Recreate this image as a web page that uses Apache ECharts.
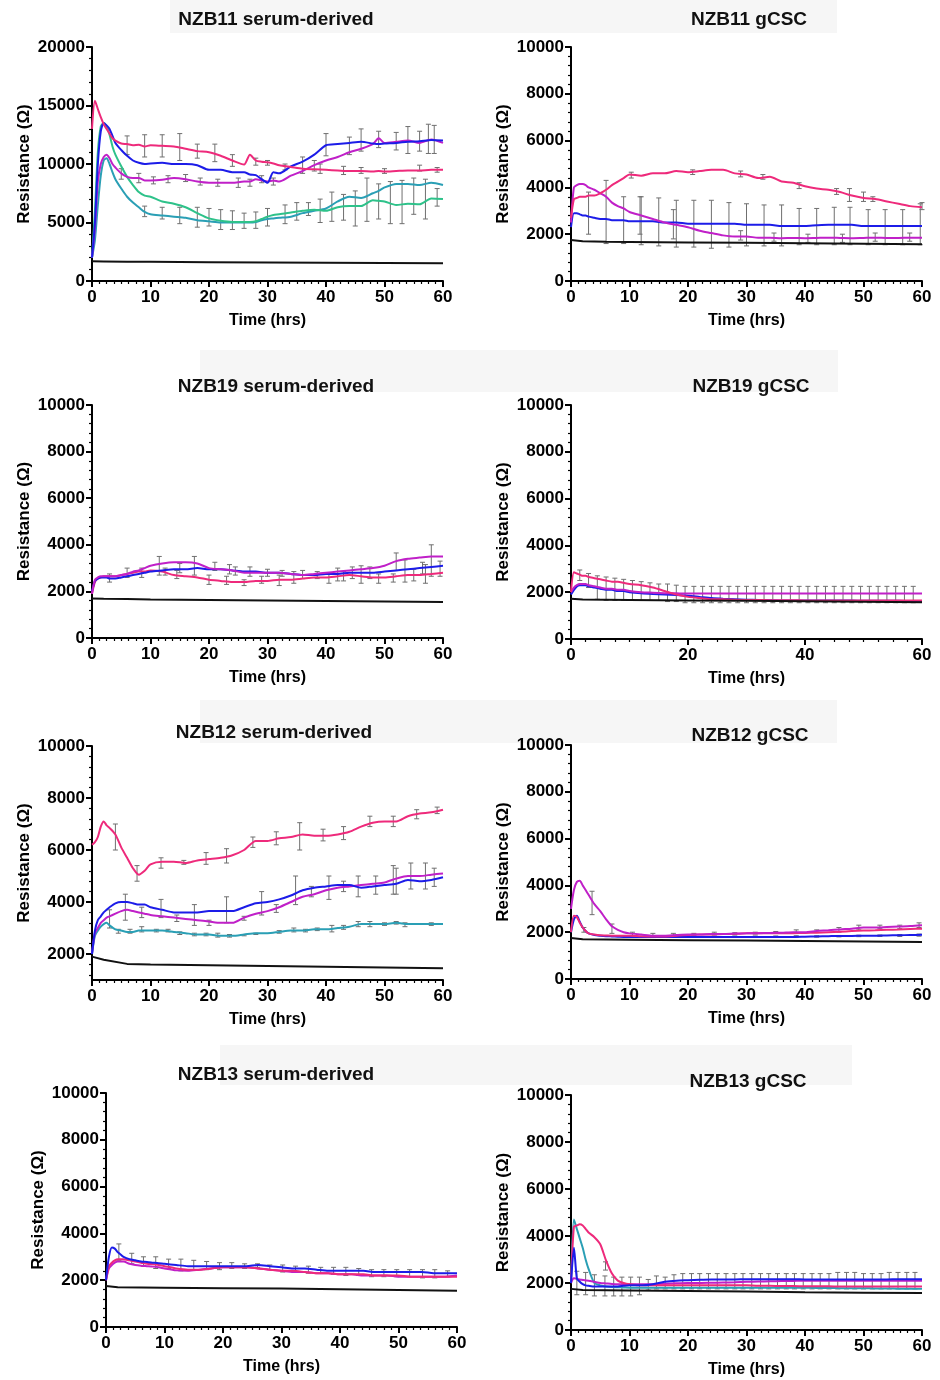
<!DOCTYPE html>
<html>
<head>
<meta charset="utf-8">
<script src="https://cdn.jsdelivr.net/npm/echarts@6/dist/echarts.min.js"></script>
<style>
  html, body { margin: 0; padding: 0; background: #fff; }
  #main { width: 940px; height: 1380px; }
</style>
</head>
<body>
<div id="main"></div>
<script>
// time points (hrs)
var TIME = [0, 0.5, 1, 1.5, 2, 2.5, 3, 4, 5, 6, 7, 8, 9, 10, 12, 14, 16, 18, 20, 22, 24, 26, 28, 30, 32, 34, 36, 38, 40, 42, 44, 46, 48, 50, 52, 54, 56, 58, 60];
var BLACK_TIME = [0, 2, 6, 10, 20, 30, 40, 50, 60];

// NZB11 serum-derived
var nzb11sTime = [0, 0.5, 1, 1.5, 2, 2.5, 3, 3.5, 4, 5, 6, 7, 8, 9, 10, 12, 14, 16, 18, 20, 22, 24, 26, 27, 28, 29, 30, 31, 32, 34, 36, 38, 40, 42, 44, 46, 48, 49, 50, 52, 54, 56, 58, 60];
var nzb11sPink = [13000, 15400, 14700, 14000, 13400, 13000, 12600, 12200, 12000, 11750, 11700, 11600, 11650, 11500, 11600, 11550, 11500, 11300, 11100, 11000, 10700, 10300, 9950, 10800, 10300, 10200, 10150, 10050, 9900, 9750, 9600, 9550, 9500, 9450, 9400, 9400, 9350, 9400, 9350, 9400, 9450, 9450, 9500, 9500];
var nzb11sBlue = [2000, 5000, 10000, 12800, 13500, 13300, 13000, 12400, 11800, 11200, 10700, 10300, 10100, 10000, 10050, 10100, 10000, 10000, 9900, 9500, 9500, 9300, 9300, 9100, 9050, 8700, 8400, 9300, 9200, 9800, 10200, 10800, 11600, 11700, 11800, 11900, 11750, 11700, 11750, 11800, 11900, 11950, 12050, 12000];
var nzb11sMagenta = [2000, 4500, 8500, 10000, 10600, 10800, 10500, 10000, 9700, 9200, 8900, 8800, 8800, 8600, 8600, 8650, 8800, 8700, 8500, 8400, 8400, 8400, 8500, 8500, 8700, 8600, 8500, 8600, 8500, 9000, 9400, 9900, 10300, 10600, 11000, 11300, 11700, 12200, 11800, 11900, 12000, 11800, 12100, 11800];
var nzb11sGreen = [2000, 6000, 11000, 13200, 13500, 13200, 12500, 11500, 10800, 9800, 8900, 8200, 7600, 7300, 7200, 6800, 6600, 6300, 5800, 5350, 5150, 5050, 5050, 5050, 5100, 5300, 5500, 5650, 5700, 5850, 6000, 6100, 6000, 6300, 6400, 6400, 6900, 6850, 6800, 6500, 6600, 6550, 7050, 7000];
var nzb11sTeal = [2000, 3500, 6500, 9000, 10300, 10500, 10000, 9300, 8700, 7900, 7200, 6700, 6300, 5900, 5700, 5600, 5500, 5400, 5200, 5100, 5000, 5000, 5000, 5000, 5050, 5200, 5300, 5350, 5400, 5500, 5800, 6000, 6200, 6800, 7200, 7100, 7500, 7700, 8000, 8300, 8300, 8200, 8400, 8200];
var nzb11sBlack = [1680, 1670, 1650, 1640, 1610, 1590, 1560, 1540, 1520];
var nzb11sErr = [
  [6, 10800, 12400], [9, 10600, 12500], [12, 10600, 12500], [15, 10300, 12600], [18, 10500, 11700], [21, 10200, 11700],
  [24, 9800, 10800], [28, 9900, 10500], [30, 9900, 10300], [33, 9500, 10000], [36, 9200, 10600], [39, 9200, 10000],
  [43, 9100, 9800], [46, 9200, 9700], [50, 9200, 9600], [56, 9400, 9900], [59, 9300, 9700],
  [5, 8700, 9600], [8, 8400, 9200], [10.5, 8300, 8900], [13, 8400, 9000], [16, 8500, 9100], [18.5, 8200, 8800],
  [21.5, 8100, 8700], [25, 8000, 8800], [27, 8100, 8700], [29, 8400, 9000], [31, 8200, 8800], [38, 9400, 10300],
  [9, 5500, 6400], [12, 5300, 6300], [15, 4900, 6300], [18, 4600, 6300], [20, 4700, 6200], [22, 4400, 6100],
  [24, 4400, 6000], [26, 4500, 5800], [28, 4500, 5900], [30, 4700, 6200], [33, 4900, 6500], [35, 5200, 6700],
  [37, 5600, 6700], [39, 5000, 7000], [41, 5100, 7600], [43, 5200, 7400], [45, 4700, 7700], [47, 5100, 8800],
  [49, 5300, 8300], [51, 4900, 8500], [53, 4900, 8600], [55, 5700, 8800], [57, 5300, 8700], [59, 6400, 7900],
  [40, 10700, 12600], [44, 10800, 12300], [46, 11100, 13000], [49, 11400, 12800], [52, 11200, 12700],
  [54, 10900, 13200], [56, 11100, 12800], [57.5, 10900, 13400], [58.5, 10900, 13300]
];

// NZB11 gCSC
var nzb11gPink = [2700, 3500, 3550, 3600, 3600, 3600, 3650, 3650, 3750, 3900, 4100, 4250, 4400, 4550, 4500, 4600, 4600, 4700, 4650, 4700, 4750, 4750, 4600, 4550, 4400, 4450, 4250, 4200, 4050, 3950, 3900, 3800, 3650, 3550, 3500, 3400, 3300, 3200, 3150];
var nzb11gMagenta = [2500, 4000, 4100, 4150, 4150, 4100, 4000, 3900, 3750, 3600, 3350, 3200, 3100, 2950, 2800, 2650, 2500, 2400, 2300, 2150, 2050, 1950, 1900, 1900, 1850, 1850, 1830, 1840, 1830, 1840, 1850, 1840, 1830, 1840, 1850, 1840, 1840, 1850, 1850];
var nzb11gBlue = [2300, 2900, 2900, 2850, 2800, 2800, 2750, 2700, 2650, 2650, 2600, 2600, 2600, 2550, 2550, 2550, 2500, 2500, 2450, 2450, 2450, 2450, 2450, 2400, 2400, 2400, 2350, 2350, 2350, 2380, 2400, 2400, 2400, 2350, 2350, 2350, 2350, 2350, 2350];
var nzb11gBlack = [1750, 1700, 1680, 1670, 1650, 1630, 1610, 1590, 1570];
var nzb11gErr = [
  [3, 2000, 3800], [6, 1600, 4300], [9, 1600, 3600], [11.8, 2000, 3600], [12, 1550, 3600], [15, 1500, 3550],
  [17.5, 1800, 3050], [18, 1450, 3450], [21, 1450, 3450], [24, 1400, 3450], [27, 1450, 3350], [30, 1500, 3300],
  [33, 1500, 3250], [36, 1500, 3250], [39, 1550, 3100], [42, 1550, 3100], [45, 1550, 3150], [47.7, 1550, 3150],
  [50.8, 1550, 3050], [53.7, 1550, 3050], [56.7, 1550, 3050], [59.7, 1550, 3300],
  [10.3, 4400, 4650], [20.8, 4550, 4750], [29, 4450, 4700], [32.8, 4350, 4550], [39, 3950, 4200], [45.4, 3700, 3950],
  [47.6, 3400, 3950], [50, 3400, 3800], [51.6, 3400, 3600], [60, 3050, 3350],
  [29, 1750, 2150], [34.7, 1700, 2050], [40.5, 1650, 2000], [46.4, 1650, 2000], [52, 1700, 2050], [57.9, 1700, 2050]
];

// NZB19 serum-derived
var nzb19sMagenta = [1900, 2500, 2600, 2650, 2650, 2650, 2650, 2650, 2700, 2750, 2850, 2900, 3000, 3100, 3200, 3250, 3250, 3200, 3000, 2950, 2900, 2800, 2800, 2800, 2800, 2750, 2700, 2750, 2800, 2850, 2900, 2950, 3000, 3100, 3300, 3400, 3450, 3500, 3500];
var nzb19sBlue = [2000, 2450, 2550, 2600, 2600, 2600, 2550, 2550, 2600, 2650, 2700, 2750, 2800, 2850, 2900, 2950, 2950, 3000, 2950, 2950, 2900, 2850, 2850, 2800, 2800, 2750, 2700, 2700, 2750, 2750, 2800, 2800, 2800, 2850, 2900, 2950, 3000, 3050, 3100];
var nzb19sPink = [1900, 2400, 2550, 2600, 2650, 2650, 2650, 2650, 2700, 2750, 2800, 2850, 2850, 2900, 2850, 2700, 2650, 2600, 2500, 2450, 2400, 2400, 2450, 2450, 2500, 2500, 2550, 2600, 2600, 2650, 2700, 2650, 2600, 2600, 2650, 2700, 2700, 2750, 2800];
var nzb19sBlack = [1700, 1680, 1670, 1650, 1630, 1610, 1590, 1570, 1550];
var nzb19sErr = [
  [3, 2400, 2750], [6, 2600, 3000], [8.5, 2600, 3000], [11.5, 2700, 3500], [12.5, 2700, 3000], [14.5, 2550, 2900],
  [15, 2800, 3200], [17.5, 2700, 3500], [20, 2300, 2700], [21, 2900, 3250], [23, 2300, 2650], [23.5, 2750, 3150],
  [24.5, 2700, 3050], [26, 2250, 2500], [27, 2650, 3050], [29, 2350, 2650], [30, 2650, 2950], [32, 2250, 2700],
  [32.5, 2650, 2900], [34.5, 2350, 2850], [36, 2550, 2900], [38.5, 2550, 2850], [40.5, 2350, 2800], [42, 2450, 3000],
  [43, 2450, 2850], [44.5, 2550, 3050], [46, 2350, 3100], [47.5, 2550, 3050], [49, 2350, 2750], [51.5, 2400, 2750],
  [52, 2900, 3650], [53.5, 2400, 3350], [55, 2450, 2950], [56.5, 2750, 3250], [57, 2350, 3150], [58, 2650, 4000],
  [59.5, 2650, 3300]
];

// NZB19 gCSC
var nzb19gPink = [2000, 2850, 2800, 2750, 2700, 2700, 2650, 2600, 2550, 2500, 2450, 2450, 2400, 2350, 2300, 2200, 2050, 1900, 1800, 1750, 1700, 1700, 1680, 1670, 1670, 1660, 1660, 1660, 1650, 1650, 1650, 1650, 1650, 1650, 1650, 1650, 1650, 1650, 1650];
var nzb19gMagenta = [2000, 2200, 2300, 2350, 2350, 2350, 2300, 2250, 2200, 2150, 2150, 2100, 2100, 2050, 2000, 1980, 1960, 1950, 1940, 1940, 1940, 1940, 1940, 1940, 1940, 1940, 1940, 1940, 1940, 1940, 1940, 1940, 1940, 1940, 1940, 1940, 1940, 1940, 1940];
var nzb19gBlue = [1900, 2100, 2250, 2300, 2300, 2300, 2250, 2200, 2150, 2100, 2100, 2050, 2050, 2000, 1950, 1920, 1900, 1880, 1850, 1800, 1750, 1720, 1700, 1680, 1670, 1660, 1650, 1650, 1650, 1640, 1640, 1640, 1640, 1630, 1630, 1630, 1630, 1620, 1620];
var nzb19gBlack = [1720, 1690, 1680, 1670, 1650, 1630, 1610, 1590, 1570];
var nzb19gErr = [
  [1.5, 2500, 2950], [3, 2200, 2800], [4.5, 1700, 2700], [6, 1650, 2650], [7.5, 1650, 2600], [9, 1650, 2550],
  [10.5, 1650, 2500], [12, 1650, 2450], [13.5, 1650, 2400], [15, 1650, 2350], [16.5, 1600, 2350], [18, 1600, 2300],
  [19.5, 1550, 2250], [21, 1550, 2250], [22.5, 1550, 2250], [24, 1550, 2250], [25.5, 1550, 2250], [27, 1550, 2250],
  [28.5, 1550, 2250], [30, 1550, 2250], [31.5, 1550, 2250], [33, 1550, 2250], [34.5, 1550, 2250], [36, 1550, 2250],
  [37.5, 1550, 2250], [39, 1550, 2250], [40.5, 1550, 2250], [42, 1550, 2250], [43.5, 1550, 2250], [45, 1550, 2250],
  [46.5, 1550, 2250], [48, 1550, 2250], [49.5, 1550, 2250], [51, 1550, 2250], [52.5, 1550, 2250], [54, 1550, 2250],
  [55.5, 1550, 2250], [57, 1550, 2250], [58.5, 1550, 2250]
];

// NZB12 serum-derived
var nzb12sPink = [6200, 6300, 6500, 6900, 7100, 6950, 6850, 6600, 6100, 5700, 5300, 5050, 5200, 5450, 5550, 5550, 5500, 5600, 5650, 5700, 5800, 6000, 6350, 6350, 6450, 6500, 6600, 6550, 6550, 6600, 6700, 6900, 7050, 7100, 7100, 7300, 7400, 7450, 7550];
var nzb12sBlue = [2000, 2900, 3300, 3450, 3600, 3700, 3800, 3950, 4000, 4000, 3950, 3900, 3900, 3800, 3700, 3600, 3600, 3600, 3650, 3650, 3650, 3800, 3950, 4000, 4100, 4250, 4450, 4550, 4600, 4650, 4650, 4550, 4600, 4650, 4700, 4850, 4800, 4850, 4950];
var nzb12sMagenta = [2000, 2800, 3000, 3200, 3300, 3400, 3450, 3550, 3650, 3700, 3650, 3600, 3550, 3500, 3450, 3400, 3350, 3300, 3250, 3200, 3200, 3400, 3550, 3650, 3800, 4000, 4200, 4300, 4450, 4550, 4600, 4650, 4700, 4750, 4900, 5000, 5000, 5050, 5100];
var nzb12sTeal = [2000, 2700, 2900, 3050, 3150, 3200, 3100, 2950, 2900, 2850, 2850, 2900, 2900, 2900, 2900, 2850, 2800, 2750, 2750, 2700, 2700, 2750, 2800, 2800, 2850, 2900, 2900, 2950, 2950, 3000, 3050, 3150, 3150, 3150, 3200, 3150, 3150, 3150, 3150];
var nzb12sBlack = [1900, 1780, 1620, 1600, 1570, 1540, 1510, 1480, 1450];
var nzb12sErr = [
  [4, 6000, 7000], [7.7, 4800, 5400], [11.8, 5300, 5700], [15.7, 5450, 5600], [19.5, 5450, 5900], [23, 5500, 6050],
  [27.5, 6100, 6500], [31.5, 6200, 6700], [35.5, 6000, 7050], [39.5, 6350, 6800], [43, 6400, 6900], [47.5, 6900, 7300],
  [51.5, 6900, 7300], [55.5, 7200, 7550], [59, 7400, 7650],
  [3, 3000, 3700], [5.7, 3300, 4300], [8.5, 3400, 3800], [11.8, 3400, 4100], [14.5, 3250, 3500], [17.5, 3100, 3900],
  [20, 3100, 3300], [23, 3200, 4200], [26, 3300, 3450], [29, 3500, 4400], [31.5, 3600, 3900], [34.8, 3900, 5000],
  [37.5, 4200, 4600], [40.5, 4100, 5000], [43, 4400, 4800], [45.5, 4200, 5000], [48.5, 4300, 5000], [51.5, 4300, 5400],
  [52, 4300, 5300], [54.5, 4500, 5500], [57, 4500, 5500], [58.5, 4600, 5300],
  [4.5, 2800, 2950], [6.5, 2800, 2950], [8.5, 2850, 3050], [11, 2850, 2950], [13, 2850, 2950], [15, 2750, 2850],
  [17.5, 2700, 2800], [19.5, 2700, 2800], [21.5, 2650, 2800], [23.5, 2650, 2750], [26, 2700, 2750], [28, 2750, 2800],
  [32, 2800, 2900], [34.5, 2850, 3000], [36.5, 2850, 2950], [38.5, 2900, 3000], [41, 2850, 3100], [43, 2950, 3100],
  [45.5, 3050, 3250], [47.5, 3050, 3250], [50, 3100, 3200], [52, 3150, 3250], [53.5, 3050, 3200], [58, 3100, 3200]
];

// NZB12 gCSC
var nzb12gMagenta = [3000, 3800, 4150, 4200, 4000, 3800, 3600, 3200, 2900, 2550, 2250, 2100, 2000, 1950, 1900, 1850, 1850, 1880, 1900, 1900, 1920, 1920, 1940, 1950, 1960, 1970, 1980, 2000, 2000, 2050, 2080, 2120, 2150, 2200, 2200, 2220, 2240, 2260, 2300];
var nzb12gPink = [2000, 2700, 2650, 2400, 2200, 2050, 1950, 1900, 1870, 1860, 1850, 1850, 1850, 1850, 1830, 1820, 1820, 1850, 1880, 1900, 1900, 1920, 1930, 1950, 1950, 1950, 1950, 1960, 1970, 1980, 2000, 2020, 2050, 2070, 2080, 2100, 2120, 2140, 2150];
var nzb12gBlue = [2000, 2550, 2700, 2450, 2200, 2050, 1950, 1880, 1850, 1830, 1820, 1810, 1800, 1800, 1800, 1800, 1800, 1800, 1800, 1800, 1800, 1800, 1800, 1800, 1800, 1800, 1800, 1800, 1810, 1820, 1830, 1840, 1840, 1850, 1850, 1860, 1870, 1880, 1890];
var nzb12gBlack = [1750, 1700, 1690, 1680, 1660, 1640, 1620, 1600, 1580];
var nzb12gErr = [
  [2.2, 2000, 2200], [3.6, 2750, 3750], [7, 1950, 2350], [10.5, 1850, 2000], [14, 1850, 1950], [17.5, 1850, 1950],
  [21, 1870, 1950], [24.5, 1900, 2000], [28, 1900, 1980], [31.5, 1920, 2000], [35, 1950, 2030], [38.5, 1950, 2100],
  [42, 2000, 2100], [45.8, 2000, 2200], [49.2, 2100, 2300], [52.8, 2150, 2300], [56.2, 2150, 2300], [59.5, 2200, 2400],
  [10.5, 1780, 1840], [14, 1780, 1840], [17.5, 1780, 1840], [21, 1780, 1840], [24.5, 1780, 1840], [28, 1780, 1840],
  [31.5, 1780, 1840], [35, 1780, 1840], [38.5, 1790, 1850], [42, 1790, 1850], [45.8, 1800, 1860], [49.2, 1810, 1870],
  [52.8, 1820, 1880], [56.2, 1820, 1900], [59.5, 1830, 1920]
];

// NZB13 serum-derived
var nzb13sBlue = [2000, 3000, 3400, 3350, 3200, 3100, 3000, 2900, 2850, 2800, 2780, 2750, 2720, 2700, 2650, 2600, 2600, 2600, 2600, 2600, 2600, 2650, 2600, 2550, 2500, 2500, 2450, 2400, 2400, 2400, 2400, 2350, 2350, 2350, 2350, 2350, 2300, 2300, 2300];
var nzb13sPink = [2000, 2600, 2750, 2850, 2900, 2900, 2900, 2850, 2800, 2750, 2700, 2680, 2650, 2600, 2500, 2450, 2450, 2500, 2550, 2550, 2550, 2500, 2450, 2400, 2400, 2350, 2300, 2300, 2250, 2250, 2250, 2200, 2200, 2200, 2150, 2150, 2150, 2150, 2150];
var nzb13sMagenta = [2000, 2500, 2650, 2750, 2800, 2800, 2800, 2700, 2650, 2620, 2600, 2580, 2550, 2500, 2420, 2400, 2450, 2500, 2550, 2550, 2550, 2500, 2450, 2400, 2350, 2350, 2300, 2300, 2250, 2250, 2200, 2200, 2200, 2150, 2150, 2150, 2150, 2150, 2200];
var nzb13sBlack = [1750, 1700, 1690, 1680, 1660, 1640, 1610, 1580, 1550];
var nzb13sErr = [
  [2.2, 2850, 3550], [4.4, 2700, 3150], [6.4, 2600, 3000], [8.5, 2500, 3000], [10.7, 2500, 2900], [12.8, 2400, 2900],
  [15, 2450, 2850], [17.2, 2450, 2800], [19.4, 2450, 2750], [21.5, 2500, 2750], [23.7, 2500, 2700], [25.9, 2550, 2700],
  [28, 2450, 2650], [30.2, 2350, 2650], [32.4, 2350, 2600], [34.6, 2300, 2600], [36.7, 2300, 2550], [38.9, 2250, 2550],
  [41, 2200, 2550], [43.2, 2200, 2500], [45.4, 2150, 2450], [47.5, 2150, 2450], [49.7, 2150, 2450], [51.9, 2150, 2450],
  [54.1, 2100, 2450], [56.2, 2100, 2450], [58.4, 2150, 2400]
];

// NZB13 gCSC
var nzb13gTeal = [2000, 4700, 4300, 3900, 3500, 3000, 2600, 2000, 1900, 1850, 1830, 1820, 1810, 1800, 1800, 1800, 1800, 1800, 1800, 1800, 1800, 1800, 1800, 1800, 1800, 1800, 1800, 1800, 1800, 1790, 1790, 1780, 1780, 1780, 1770, 1770, 1760, 1760, 1750];
var nzb13gPink = [2000, 4400, 4450, 4500, 4450, 4300, 4150, 3950, 3650, 2950, 2400, 2100, 2000, 1950, 1900, 1900, 1900, 1900, 1900, 1900, 1900, 1900, 1900, 1900, 1880, 1880, 1870, 1870, 1860, 1860, 1860, 1850, 1850, 1850, 1850, 1850, 1850, 1850, 1850];
var nzb13gBlue = [2000, 3500, 2200, 2050, 1950, 1900, 1880, 1850, 1850, 1850, 1850, 1850, 1880, 1900, 1900, 1950, 2050, 2100, 2120, 2140, 2150, 2150, 2150, 2160, 2160, 2160, 2160, 2160, 2150, 2150, 2150, 2150, 2150, 2150, 2150, 2150, 2160, 2160, 2160];
var nzb13gMagenta = [2000, 2200, 2180, 2150, 2130, 2110, 2100, 2050, 2000, 1980, 1960, 1950, 1950, 1950, 1950, 1950, 1970, 1990, 2000, 2000, 2010, 2020, 2030, 2050, 2060, 2070, 2080, 2090, 2100, 2100, 2100, 2100, 2100, 2100, 2100, 2100, 2100, 2100, 2100];
var nzb13gBlack = [1750, 1700, 1690, 1680, 1660, 1640, 1610, 1590, 1570];
var nzb13gErr = [
  [1, 1500, 2500], [2.5, 1500, 2450], [4, 1450, 2350], [5.8, 1450, 2300], [5.9, 2550, 2900], [7.3, 1450, 2250],
  [8.7, 1450, 2250], [10.2, 1450, 2250], [11.7, 1500, 2250], [13.2, 1700, 2150], [14.6, 1750, 2300], [16.1, 1750, 2250],
  [17.6, 1750, 2350], [19.1, 1750, 2400], [20.6, 1750, 2400], [22, 1750, 2400], [23.5, 1750, 2400], [25, 1750, 2400],
  [26.5, 1750, 2400], [28, 1750, 2400], [29.4, 1750, 2400], [30.9, 1750, 2400], [32.4, 1750, 2400], [33.8, 1750, 2400],
  [35.3, 1750, 2400], [36.8, 1750, 2400], [38.2, 1750, 2400], [39.7, 1750, 2400], [41.2, 1750, 2400], [42.6, 1750, 2400],
  [44.1, 1750, 2400], [45.6, 1750, 2450], [47.1, 1750, 2450], [48.5, 1750, 2450], [50, 1750, 2400], [51.5, 1750, 2400],
  [53, 1750, 2400], [54.4, 1750, 2450], [55.9, 1750, 2450], [57.4, 1750, 2450], [58.8, 1750, 2450]
];

var FONT = '"Liberation Sans", Arial, Helvetica, sans-serif';
var PINK = '#ee2a7b', MAGENTA = '#c020c8', BLUE = '#1c1ce8', TEAL = '#2a9fb5', GREEN = '#2ec28a', BLACK = '#111111';

// panel layout
var panels = [
  { title: 'NZB11 serum-derived', tx: 276, ty: 20, left: 92, top: 47, height: 234, yMin: 0, yMax: 20000, yInt: 5000, xInt: 10,
    time: nzb11sTime, lines: [[nzb11sTeal, TEAL], [nzb11sGreen, GREEN], [nzb11sMagenta, MAGENTA], [nzb11sBlue, BLUE], [nzb11sPink, PINK]],
    black: nzb11sBlack, err: nzb11sErr },
  { title: 'NZB11 gCSC', tx: 749, ty: 20, left: 571, top: 47, height: 234, yMin: 0, yMax: 10000, yInt: 2000, xInt: 10,
    time: TIME, lines: [[nzb11gBlue, BLUE], [nzb11gMagenta, MAGENTA], [nzb11gPink, PINK]],
    black: nzb11gBlack, err: nzb11gErr },
  { title: 'NZB19 serum-derived', tx: 276, ty: 387, left: 92, top: 405, height: 233, yMin: 0, yMax: 10000, yInt: 2000, xInt: 10,
    time: TIME, lines: [[nzb19sPink, PINK], [nzb19sBlue, BLUE], [nzb19sMagenta, MAGENTA]],
    black: nzb19sBlack, err: nzb19sErr },
  { title: 'NZB19 gCSC', tx: 751, ty: 387, left: 571, top: 405, height: 234, yMin: 0, yMax: 10000, yInt: 2000, xInt: 20,
    time: TIME, lines: [[nzb19gBlue, BLUE], [nzb19gMagenta, MAGENTA], [nzb19gPink, PINK]],
    black: nzb19gBlack, err: nzb19gErr },
  { title: 'NZB12 serum-derived', tx: 274, ty: 733, left: 92, top: 746, height: 234, yMin: 1000, yMax: 10000, yInt: 1000, xInt: 10,
    time: TIME, lines: [[nzb12sTeal, TEAL], [nzb12sMagenta, MAGENTA], [nzb12sBlue, BLUE], [nzb12sPink, PINK]],
    black: nzb12sBlack, err: nzb12sErr, customY: true },
  { title: 'NZB12 gCSC', tx: 750, ty: 736, left: 571, top: 745, height: 234, yMin: 0, yMax: 10000, yInt: 2000, xInt: 10,
    time: TIME, lines: [[nzb12gBlue, BLUE], [nzb12gPink, PINK], [nzb12gMagenta, MAGENTA]],
    black: nzb12gBlack, err: nzb12gErr },
  { title: 'NZB13 serum-derived', tx: 276, ty: 1075, left: 106, top: 1093, height: 234, yMin: 0, yMax: 10000, yInt: 2000, xInt: 10,
    time: TIME, lines: [[nzb13sMagenta, MAGENTA], [nzb13sPink, PINK], [nzb13sBlue, BLUE]],
    black: nzb13sBlack, err: nzb13sErr },
  { title: 'NZB13 gCSC', tx: 748, ty: 1082, left: 571, top: 1095, height: 235, yMin: 0, yMax: 10000, yInt: 2000, xInt: 10,
    time: TIME, lines: [[nzb13gTeal, TEAL], [nzb13gMagenta, MAGENTA], [nzb13gPink, PINK], [nzb13gBlue, BLUE]],
    black: nzb13gBlack, err: nzb13gErr }
];

function pairs(xs, ys) {
  return xs.map(function (x, i) { return [x, ys[i]]; });
}

// error bar with caps
function renderErr(params, api) {
  var lo = api.coord([api.value(0), api.value(1)]);
  var hi = api.coord([api.value(0), api.value(2)]);
  var w = 2.5;
  var style = { stroke: '#6f6f6f', lineWidth: 1 };
  return {
    type: 'group',
    children: [
      { type: 'line', shape: { x1: lo[0], y1: lo[1], x2: hi[0], y2: hi[1] }, style: style },
      { type: 'line', shape: { x1: lo[0] - w, y1: lo[1], x2: lo[0] + w, y2: lo[1] }, style: style },
      { type: 'line', shape: { x1: hi[0] - w, y1: hi[1], x2: hi[0] + w, y2: hi[1] }, style: style }
    ]
  };
}

// plain numbers, no thousands separator
function plain(v) { return String(v); }

var labelStyle = { color: '#000', fontSize: 17, fontWeight: 'bold', fontFamily: FONT };
var nameStyle = { color: '#000', fontSize: 16, fontWeight: 'bold', fontFamily: FONT };

var grids = [], xAxes = [], yAxes = [], series = [], graphics = [];

// faint boxes behind the titles
[[170, 0, 667, 33], [200, 350, 638, 42], [200, 700, 637, 43], [220, 1045, 632, 40]].forEach(function (r) {
  graphics.push({ type: 'rect', shape: { x: r[0], y: r[1], width: r[2], height: r[3] }, style: { fill: '#f6f6f6' }, z: -10 });
});

panels.forEach(function (p, i) {
  grids.push({ left: p.left, top: p.top, width: 351, height: p.height });
  graphics.push({
    type: 'text', x: p.tx, y: p.ty,
    style: { text: p.title, fill: '#111', font: 'bold 19px ' + FONT, textAlign: 'center', textVerticalAlign: 'middle' }
  });
  xAxes.push({
    gridIndex: i, type: 'value', min: 0, max: 60, interval: p.xInt,
    axisLine: { onZero: false, lineStyle: { color: '#000', width: 2 } },
    axisTick: { length: 6, lineStyle: { color: '#000', width: 2 } },
    minorTick: { show: true, splitNumber: 8, length: 3, lineStyle: { color: '#000', width: 1.2 } },
    splitLine: { show: false },
    axisLabel: Object.assign({ margin: 8, formatter: plain }, labelStyle),
    name: 'Time (hrs)', nameLocation: 'middle', nameGap: 32, nameTextStyle: nameStyle
  });
  var y = {
    gridIndex: i, type: 'value', min: p.yMin, max: p.yMax, interval: p.yInt,
    axisLine: { show: true, lineStyle: { color: '#000', width: 2 } },
    axisTick: { show: true, length: 6, lineStyle: { color: '#000', width: 2 } },
    minorTick: { show: true, splitNumber: 5, length: 3, lineStyle: { color: '#000', width: 1.2 } },
    splitLine: { show: false },
    axisLabel: Object.assign({ margin: 7, formatter: plain }, labelStyle),
    name: 'Resistance (\u03A9)', nameLocation: 'middle', nameGap: 59, nameRotate: 90,
    nameTextStyle: Object.assign({}, nameStyle, { fontSize: 17 })
  };
  if (p.customY) {
    var major = [2000, 4000, 6000, 8000, 10000];
    y.axisLabel.customValues = major;
    y.axisTick.customValues = major;
    y.minorTick = { show: false };
  }
  yAxes.push(y);

  series.push({
    type: 'custom', xAxisIndex: i, yAxisIndex: i, renderItem: renderErr,
    encode: { x: 0, y: [1, 2] }, data: p.err, z: 1, silent: true
  });
  p.lines.forEach(function (l) {
    series.push({
      type: 'line', xAxisIndex: i, yAxisIndex: i, data: pairs(p.time, l[0]),
      showSymbol: false, smooth: 0.25, lineStyle: { color: l[1], width: 2 }, z: 2, silent: true
    });
  });
  series.push({
    type: 'line', xAxisIndex: i, yAxisIndex: i, data: pairs(BLACK_TIME, p.black),
    showSymbol: false, lineStyle: { color: BLACK, width: 2 }, z: 2, silent: true
  });
});

// small ticks for the NZB12 serum-derived y axis (it starts at 1000)
yAxes.push({
  gridIndex: 4, type: 'value', min: 1000, max: 10000, position: 'left',
  axisLine: { show: false }, axisLabel: { show: false }, splitLine: { show: false },
  axisTick: {
    show: true, length: 3, lineStyle: { color: '#000', width: 1.2 },
    customValues: [1200, 1600, 2400, 2800, 3200, 3600, 4400, 4800, 5200, 5600, 6400, 6800, 7200, 7600, 8400, 8800, 9200, 9600]
  }
});

var chart = echarts.init(document.getElementById('main'), null, { renderer: 'canvas' });
chart.setOption({
  animation: false,
  backgroundColor: '#ffffff',
  grid: grids,
  xAxis: xAxes,
  yAxis: yAxes,
  graphic: graphics,
  series: series
});
</script>
</body>
</html>
